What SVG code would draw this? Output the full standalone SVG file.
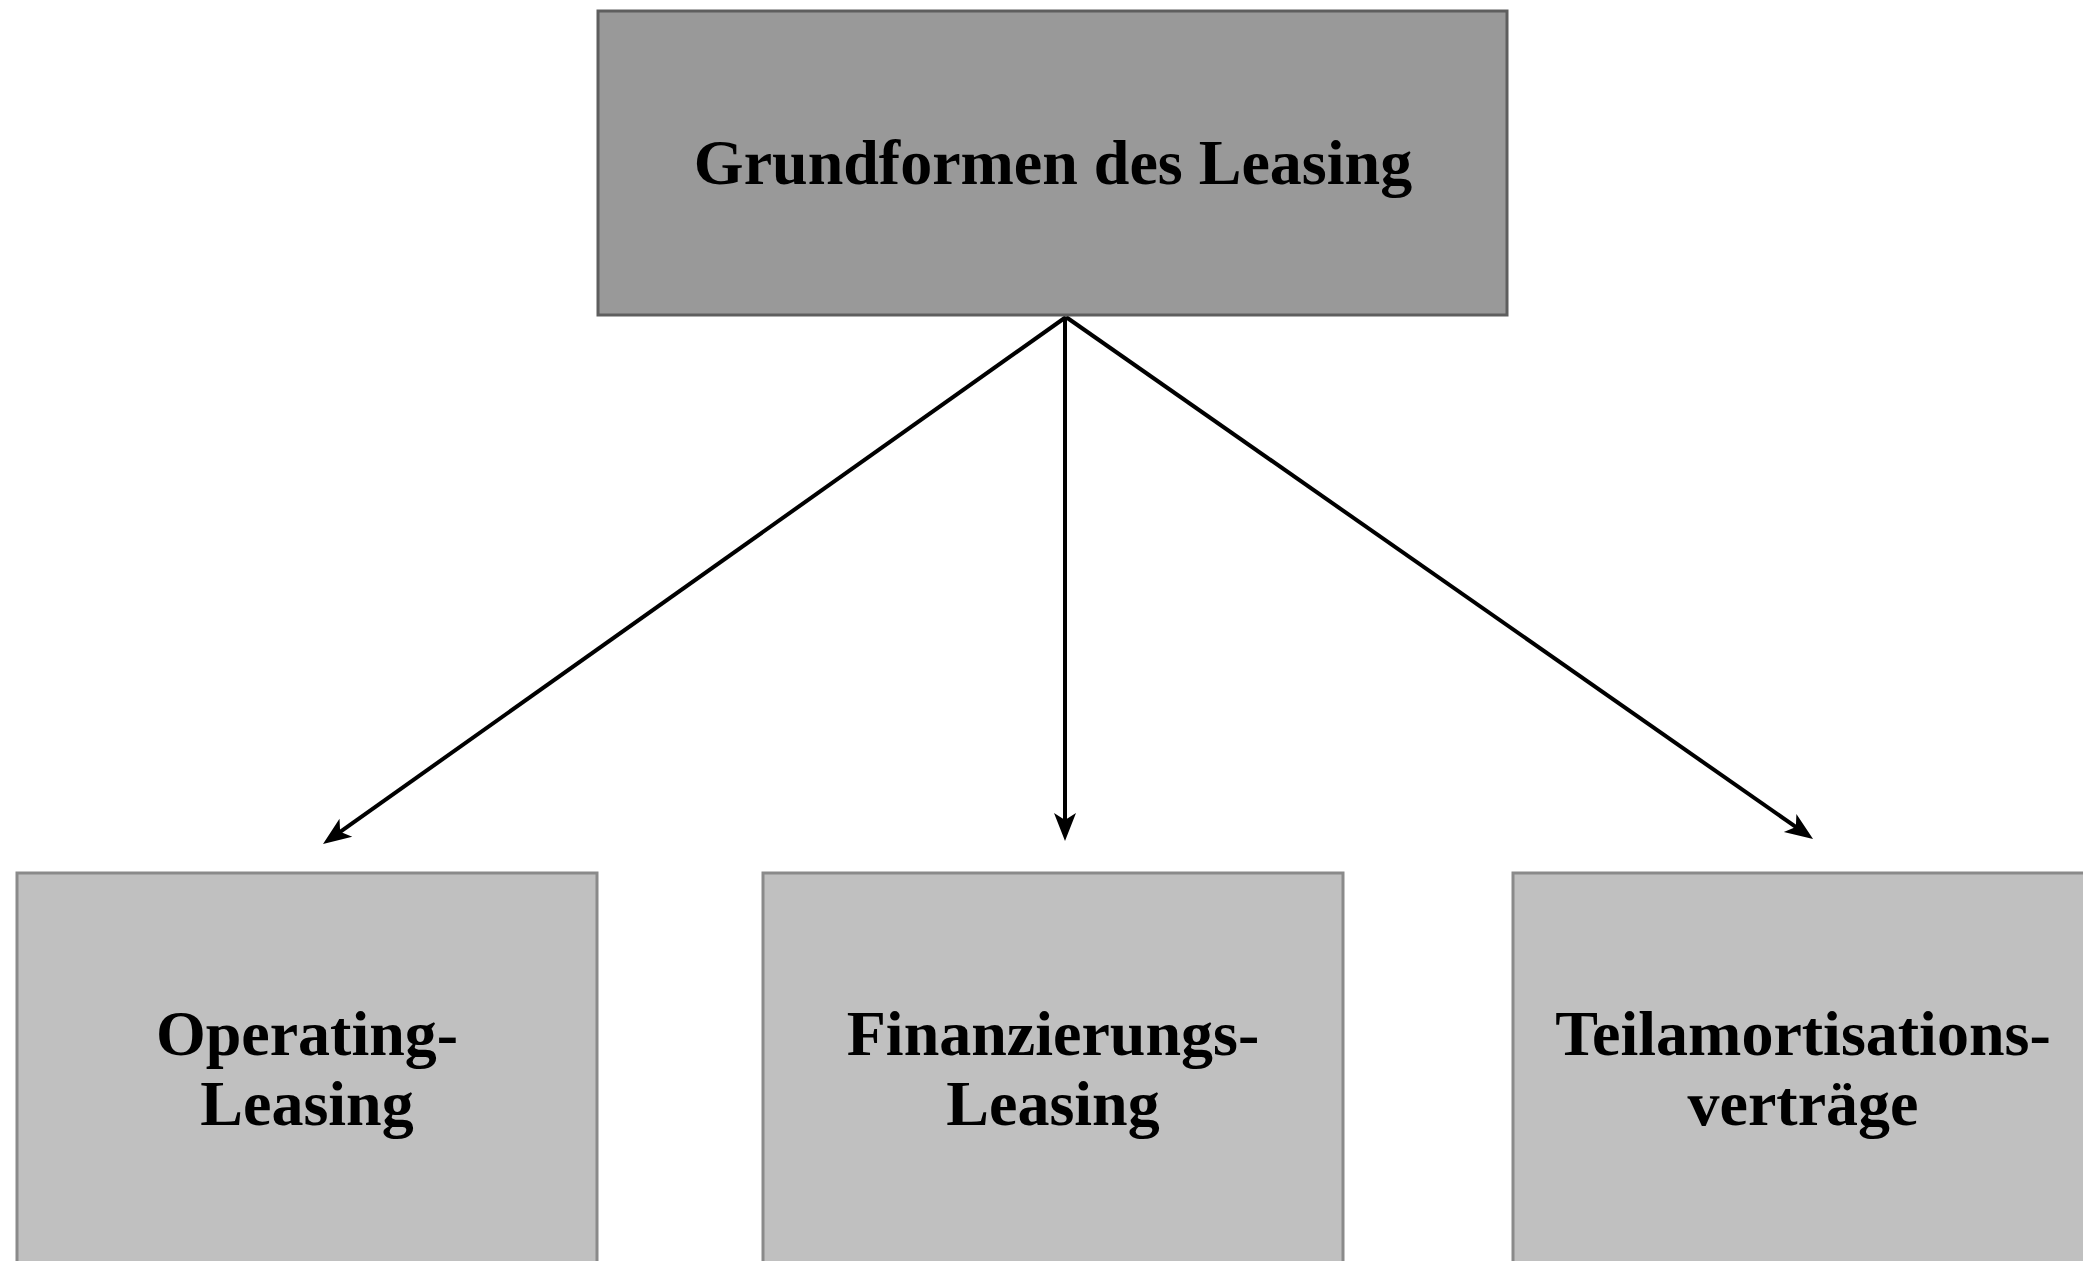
<svg xmlns="http://www.w3.org/2000/svg" width="2083" height="1261" viewBox="0 0 2083 1261">
<style>
.top{fill:#999999;stroke:#5e5e5e;stroke-width:3}
.sub{fill:#c0c0c0;stroke:#8a8a8a;stroke-width:3}
.t{font-family:"Liberation Serif","Times New Roman",serif;font-weight:bold;font-size:64px;fill:#000;text-anchor:middle}
.c{stroke:#000;stroke-width:4;fill:none}
</style>
<defs>
<marker id="ah" markerUnits="userSpaceOnUse" markerWidth="32" markerHeight="26" viewBox="-2 -13 32 26" refX="10" refY="0" orient="auto">
<path d="M0,-11 L28,0 L0,11 L7,0 Z" fill="#000"/>
</marker>
</defs>
<rect width="2083" height="1261" fill="#fff"/>
<g id="connectors">
<line class="c" x1="1066" y1="317" x2="337.7" y2="833.6" marker-end="url(#ah)"/>
<line class="c" x1="1065" y1="317" x2="1065" y2="823" marker-end="url(#ah)"/>
<line class="c" x1="1066" y1="317" x2="1798.3" y2="828.7" marker-end="url(#ah)"/>
</g>
<g id="node-grundformen">
<rect class="top" x="598" y="11" width="909" height="304"/>
<text class="t" x="1053" y="184">Grundformen des Leasing</text>
</g>
<g id="node-operating">
<rect class="sub" x="17" y="873" width="580" height="400"/>
<text class="t" x="307" y="1055">Operating-</text>
<text class="t" x="307" y="1125">Leasing</text>
</g>
<g id="node-finanzierung">
<rect class="sub" x="763" y="873" width="580" height="400"/>
<text class="t" x="1053" y="1055">Finanzierungs-</text>
<text class="t" x="1053" y="1125">Leasing</text>
</g>
<g id="node-teilamortisation">
<rect class="sub" x="1513" y="873" width="580" height="400"/>
<text class="t" x="1803" y="1055">Teilamortisations-</text>
<text class="t" x="1803" y="1125">verträge</text>
</g>
</svg>
